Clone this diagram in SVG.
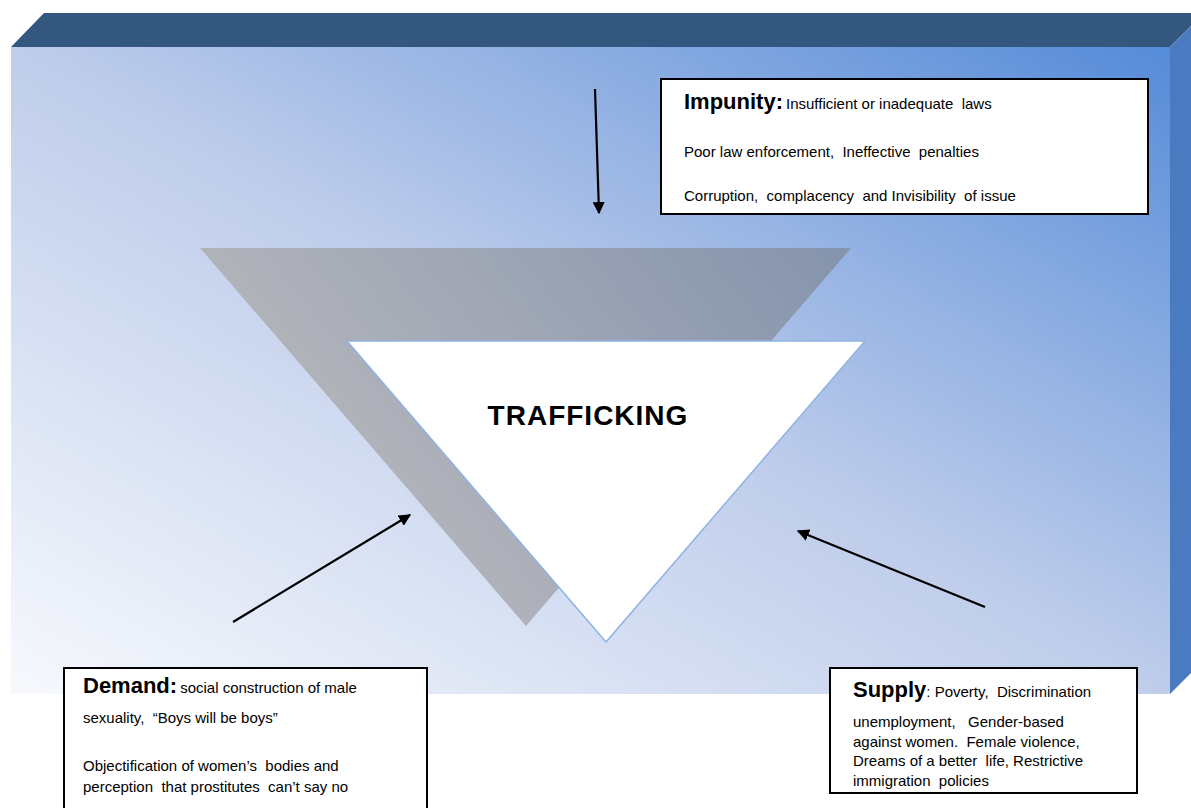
<svg xmlns="http://www.w3.org/2000/svg" width="1191" height="808" viewBox="0 0 1191 808">
<defs>
<linearGradient id="front" x1="0" y1="1" x2="1" y2="0">
<stop offset="0" stop-color="#f7f9fd"/>
<stop offset="0.5" stop-color="#bfcdeb"/>
<stop offset="1" stop-color="#558bd8"/>
</linearGradient>
<linearGradient id="shadow" gradientUnits="userSpaceOnUse" x1="420" y1="600" x2="850" y2="250">
<stop offset="0" stop-color="#b5b6bb"/>
<stop offset="1" stop-color="#8593ad"/>
</linearGradient>
<marker id="ah" viewBox="0 0 10 10" refX="9" refY="5" markerWidth="5.5" markerHeight="5.5" orient="auto" markerUnits="strokeWidth">
<path d="M0,0 L10,5 L0,10 z" fill="#000"/>
</marker>
<style>
text{white-space:pre}
.box{fill:#fff;stroke:#000;stroke-width:2}
.t{font-family:"Liberation Sans",Arial,sans-serif;font-size:15px;fill:#000}
.b{font-family:"Liberation Sans",Arial,sans-serif;font-size:22px;font-weight:bold;fill:#000}
.conn{stroke:#000;stroke-width:2.2;fill:none;marker-end:url(#ah)}
</style>
</defs>
<g id="background">
<polygon points="11,47 44,13 1204,13 1170,47" fill="#34577f"/>
<polygon points="1170,47 1204,13 1204,660 1170,694" fill="#4a7bc0"/>
<rect x="11" y="47" width="1159" height="647" fill="url(#front)"/>
</g>
<g id="shadow-triangle">
<polygon points="200,248 851,248 526,626" fill="url(#shadow)"/>
</g>
<g id="trafficking">
<polygon points="347,341 865,341 606,642" fill="#fff" stroke="#8fb2e4" stroke-width="1.5"/>
<text x="588" y="425" text-anchor="middle" font-family="Liberation Sans,Arial,sans-serif" font-size="28" font-weight="bold" letter-spacing="1" fill="#000">TRAFFICKING</text>
</g>
<g id="impunity">
<rect class="box" x="661" y="79" width="487" height="135"/>
<text xml:space="preserve" x="684" y="109"><tspan class="b">Impunity:</tspan><tspan class="t" dx="3">Insufficient or inadequate  laws</tspan></text>
<text xml:space="preserve" class="t" x="684" y="157">Poor law enforcement,  Ineffective  penalties</text>
<text xml:space="preserve" class="t" x="684" y="201">Corruption,  complacency  and Invisibility  of issue</text>
</g>
<g id="demand">
<rect class="box" x="64" y="668" width="363" height="150"/>
<text xml:space="preserve" x="83" y="693"><tspan class="b">Demand:</tspan><tspan class="t" dx="3">social construction of male</tspan></text>
<text xml:space="preserve" class="t" x="83" y="723">sexuality,  “Boys will be boys”</text>
<text xml:space="preserve" class="t" x="83" y="771">Objectification of women’s  bodies and</text>
<text xml:space="preserve" class="t" x="83" y="792">perception  that prostitutes  can’t say no</text>
</g>
<g id="supply">
<rect class="box" x="830" y="668" width="307" height="125"/>
<text xml:space="preserve" x="853" y="697"><tspan class="b">Supply</tspan><tspan class="t">: Poverty,  Discrimination</tspan></text>
<text xml:space="preserve" class="t" x="853" y="727">unemployment,   Gender-based</text>
<text xml:space="preserve" class="t" x="853" y="747">against women.  Female violence,</text>
<text xml:space="preserve" class="t" x="853" y="766">Dreams of a better  life, Restrictive</text>
<text xml:space="preserve" class="t" x="853" y="786">immigration  policies</text>
</g>
<g id="connectors">
<line class="conn" x1="595" y1="89" x2="599" y2="213"/>
<line class="conn" x1="233" y1="622" x2="410" y2="515"/>
<line class="conn" x1="985" y1="607" x2="798" y2="531"/>
</g>
</svg>
